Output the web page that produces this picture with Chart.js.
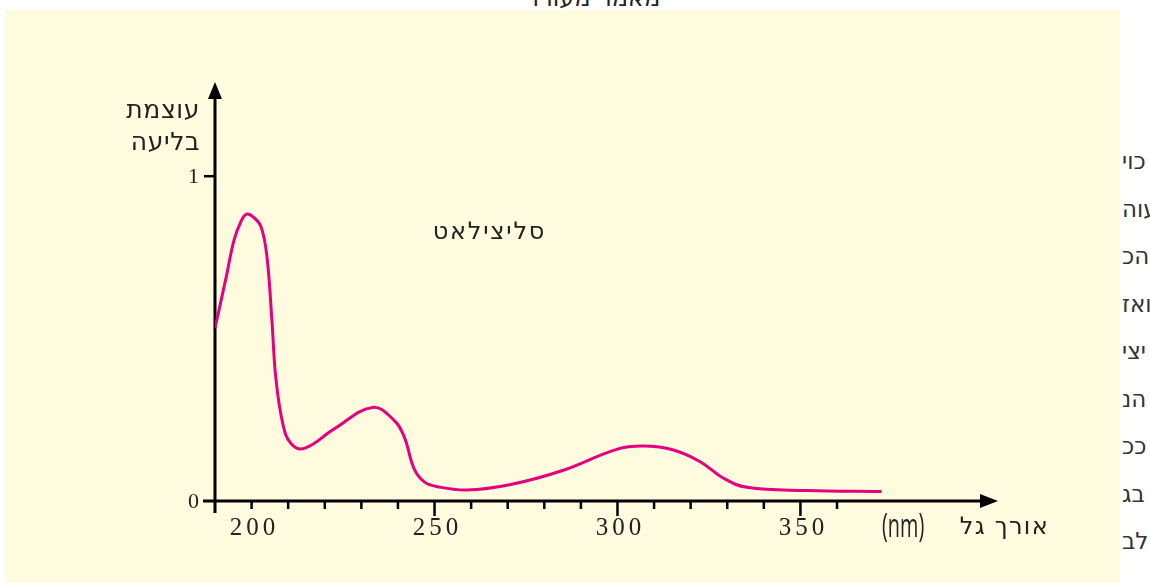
<!DOCTYPE html>
<html lang="he">
<head>
<meta charset="utf-8">
<script src="https://cdn.jsdelivr.net/npm/chart.js@4.4.0/dist/chart.umd.min.js"></script>
<style>
  body { margin: 0; width: 1150px; height: 583px; overflow: hidden; position: relative; background: #fff;
         font-family: "DejaVu Sans", sans-serif; color: #333; }
  #kotar { position: absolute; left: 0; width: 1186px; text-align: center; top: -17px; font-size: 24px; line-height: 30px; color: #222; }
  #panel { position: absolute; left: 5px; top: 10px; width: 1115px; height: 573px; background: #FFFBDE; }
  #tekst { position: absolute; left: 1122px; top: 138px; font-size: 23px; line-height: 47.5px;
           direction: ltr; unicode-bidi: bidi-override; white-space: nowrap; }
  #graf { position: absolute; left: 0; top: 0; }
</style>
</head>
<body>
<div id="kotar">מאמר מעורר</div>
<div id="panel"></div>
<div id="tekst"></div>
<canvas id="graf" width="1150" height="583"></canvas>

<script>
// ספקטרום בליעה - סליצילאט
const orechGal = [190, 193, 195.2, 197, 198.6, 200.5, 202.6, 204.2, 205.6, 206.6, 208.5, 210.7, 214.4, 222.6,
  233, 238.9, 241.7, 244.4, 247.2, 250.8, 258.9, 270.5, 285, 299.8, 307.1, 315.3, 322.6, 329, 335.4, 351.7, 372.2];
const bliaa = [0.532, 0.686, 0.803, 0.858, 0.883, 0.874, 0.844, 0.752, 0.548, 0.382, 0.24, 0.178, 0.162, 0.222,
  0.288, 0.249, 0.198, 0.1, 0.059, 0.044, 0.034, 0.05, 0.094, 0.159, 0.169, 0.157, 0.121, 0.07, 0.042, 0.032, 0.029];

const xTicks = [200, 210, 220, 230, 240, 250, 260, 270, 280, 290, 300, 310, 320, 330, 340, 350, 360];
const xLabels = [200, 250, 300, 350];
const xMajor = [250, 300, 350];
const yTicks = [0, 1];

const shuraTekst = ["כוי", "עוה", "הכ", "ואז", "יצי", "הנ", "ככ", "בג", "לב"];

document.getElementById("tekst").innerHTML = shuraTekst.map(s => "<div>" + s + "</div>").join("");

const HEB = '"DejaVu Sans", sans-serif';
const LATIN = '"Open Sans", "DejaVu Sans", sans-serif';
const SERIF = '"Liberation Serif", "DejaVu Serif", serif';

// צירים עם חצים, שנתות ותוויות
const tsirim = {
  id: "tsirim",
  beforeDatasetsDraw(chart) {
    const { ctx, chartArea, scales: { x, y } } = chart;
    const x0 = chartArea.left;
    const y0 = y.getPixelForValue(0);

    ctx.save();
    ctx.strokeStyle = "#000";
    ctx.fillStyle = "#000";
    ctx.lineWidth = 3;

    // ציר y
    ctx.beginPath();
    ctx.moveTo(x0, y0 + 12);
    ctx.lineTo(x0, chartArea.top + 14);
    ctx.stroke();
    ctx.beginPath();
    ctx.moveTo(x0, chartArea.top);
    ctx.lineTo(x0 - 7, chartArea.top + 17);
    ctx.lineTo(x0 + 7, chartArea.top + 17);
    ctx.closePath();
    ctx.fill();

    // ציר x
    ctx.beginPath();
    ctx.moveTo(x0 - 12, y0);
    ctx.lineTo(chartArea.right - 14, y0);
    ctx.stroke();
    ctx.beginPath();
    ctx.moveTo(chartArea.right, y0);
    ctx.lineTo(chartArea.right - 18, y0 - 7);
    ctx.lineTo(chartArea.right - 18, y0 + 7);
    ctx.closePath();
    ctx.fill();

    ctx.lineWidth = 2.5;
    xTicks.forEach(v => {
      const px = x.getPixelForValue(v);
      const len = xMajor.includes(v) ? 15 : 8;
      ctx.beginPath();
      ctx.moveTo(px, y0);
      ctx.lineTo(px, y0 + len);
      ctx.stroke();
    });
    yTicks.forEach(v => {
      if (v === 0) return;
      const py = y.getPixelForValue(v);
      ctx.beginPath();
      ctx.moveTo(x0 - 11, py);
      ctx.lineTo(x0, py);
      ctx.stroke();
    });

    ctx.fillStyle = "#222";
    ctx.textBaseline = "middle";
    ctx.font = "25px " + SERIF;
    ctx.letterSpacing = "4px";
    ctx.textAlign = "center";
    xLabels.forEach(v => {
      ctx.fillText(String(v), x.getPixelForValue(v) + 3, y0 + 27);
    });
    ctx.letterSpacing = "0px";
    ctx.font = "22px " + SERIF;
    ctx.textAlign = "right";
    yTicks.forEach(v => {
      ctx.fillText(String(v), x0 - 16, y.getPixelForValue(v) + 1);
    });

    // כותרות הצירים
    ctx.font = "25px " + HEB;
    ctx.letterSpacing = "0.6px";
    ctx.fillText("עוצמת", x0 - 15, 111);
    ctx.fillText("בליעה", x0 - 15, 143);

    ctx.font = "24px " + HEB;
    ctx.letterSpacing = "1.3px";
    ctx.fillText("אורך גל", 1049, y0 + 27);
    ctx.letterSpacing = "0px";

    // (nm) בגופן צר
    ctx.save();
    ctx.translate(882, y0 + 27);
    ctx.scale(0.62, 1);
    ctx.textAlign = "left";
    ctx.font = "32px " + LATIN;
    ctx.fillText("(nm)", 0, 0);
    ctx.restore();

    ctx.textAlign = "center";
    ctx.font = "24px " + HEB;
    ctx.letterSpacing = "1.75px";
    ctx.fillText("סליצילאט", x.getPixelForValue(265), y.getPixelForValue(0.826));
    ctx.restore();
  }
};

new Chart(document.getElementById("graf"), {
  type: "line",
  plugins: [tsirim],
  data: {
    datasets: [
      {
        label: "סליצילאט",
        data: orechGal.map((v, i) => ({ x: v, y: bliaa[i] })),
        borderColor: "#E5007E",
        borderWidth: 3,
        pointRadius: 0,
        tension: 0.4,
        fill: false,
      },
    ],
  },
  options: {
    responsive: false,
    animation: false,
    layout: { padding: { left: 215, top: 82, right: 152, bottom: 82 } },
    plugins: {
      legend: { display: false },
      tooltip: { enabled: false },
    },
    scales: {
      x: { type: "linear", min: 190, max: 404, display: false },
      y: { min: 0, max: 1.29, display: false },
    },
  },
});
</script>
</body>
</html>
